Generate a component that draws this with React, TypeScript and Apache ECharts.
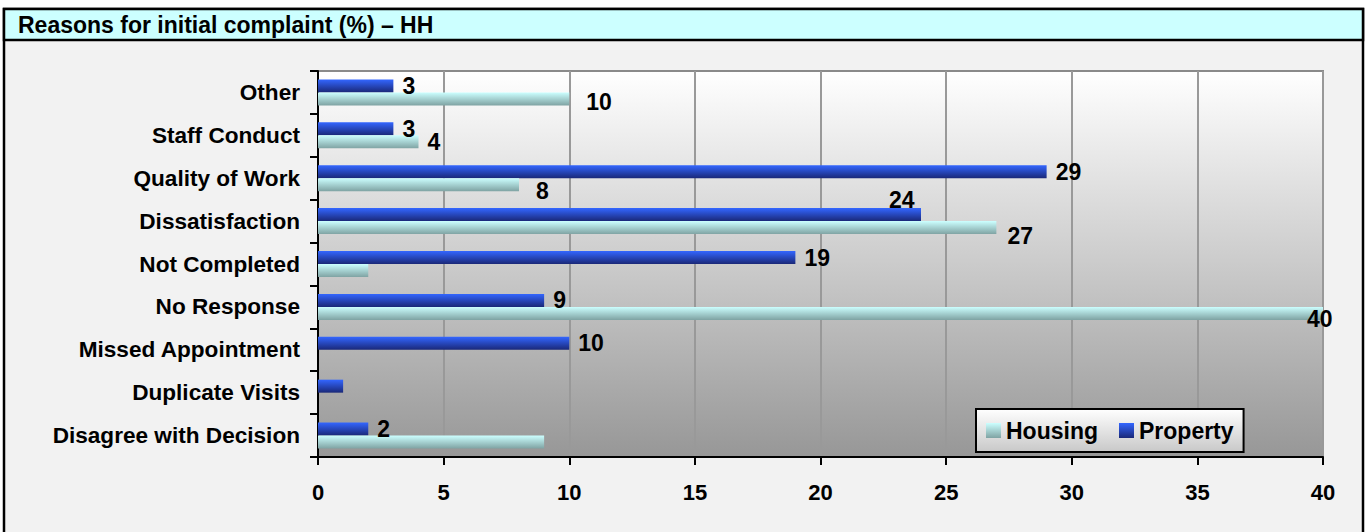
import React, { useEffect, useRef } from "react";
import * as echarts from "echarts";

const categories = [
  "Disagree with Decision",
  "Duplicate Visits",
  "Missed Appointment",
  "No Response",
  "Not Completed",
  "Dissatisfaction",
  "Quality of Work",
  "Staff Conduct",
  "Other",
];
const housing = [9, 0, 0, 40, 2, 27, 8, 4, 10];
const property = [2, 1, 10, 9, 19, 24, 29, 3, 3];
const xTicks = [0, 5, 10, 15, 20, 25, 30, 35, 40];

const FONT = "'Liberation Sans', Arial, sans-serif";

// label visibility / placement tweaks (by category index)
const housingLabelHidden = [true, true, true, false, true, false, false, false, false];
const propertyLabelHidden = [false, true, false, false, false, false, false, false, false];
const housingLabelOffset: Record<number, number[]> = {
  3: [-25, 6],
  5: [2, 8],
  6: [8, 6],
  8: [8, 3],
};
const propertyLabelOffset: Record<number, number[]> = {
  5: [-41, -15],
};

export default function App() {
  const ref = useRef<HTMLDivElement>(null);
  useEffect(() => {
    if (!ref.current) return;
    const chart = echarts.init(ref.current, null, { renderer: "svg" });
    const lg = (a: string, b: string) =>
      new echarts.graphic.LinearGradient(0, 0, 0, 1, [
        { offset: 0, color: a },
        { offset: 1, color: b },
      ]);
    const mk = (vals: number[], hidden: boolean[], offs: Record<number, number[]>) =>
      vals.map((v, i) => ({
        value: v,
        label: hidden[i]
          ? { show: false }
          : offs[i]
          ? { show: true, offset: offs[i] }
          : { show: true },
      }));
    const labelStyle = {
      show: true,
      position: "right",
      distance: 9,
      color: "#000",
      fontFamily: FONT,
      fontWeight: "bold",
      fontSize: 23,
    };
    chart.setOption({
      animation: false,
      backgroundColor: "#ffffff",
      graphic: [
        {
          type: "rect",
          shape: { x: 4, y: 9, width: 1359, height: 530 },
          style: { fill: "#f2f2f2", stroke: "#000", lineWidth: 2.5 },
          z: -10,
        },
        {
          type: "rect",
          shape: { x: 4, y: 9, width: 1359, height: 31 },
          style: { fill: "#ccffff", stroke: "#000", lineWidth: 2.5 },
          z: -9,
        },
        {
          type: "text",
          x: 18,
          y: 25,
          style: {
            text: "Reasons for initial complaint (%) \u2013 HH",
            fill: "#000",
            font: `bold 23px ${FONT}`,
            verticalAlign: "middle",
          },
        },
      ],
      legend: {
        data: ["Housing", "Property"],
        left: 976,
        top: 409,
        orient: "horizontal",
        icon: "rect",
        itemWidth: 15,
        itemHeight: 15,
        itemGap: 21,
        padding: [10, 10, 10, 10],
        backgroundColor: lg("#ffffff", "#c8c8c8"),
        borderColor: "#000",
        borderWidth: 2,
        textStyle: { color: "#000", fontFamily: FONT, fontWeight: "bold", fontSize: 23 },
      },
      grid: {
        left: 318,
        right: 44,
        top: 71,
        bottom: 75,
        show: true,
        backgroundColor: lg("#ffffff", "#979797"),
        borderColor: "#8a8a8a",
        borderWidth: 2,
        containLabel: false,
      },
      xAxis: {
        type: "value",
        min: xTicks[0],
        max: xTicks[xTicks.length - 1],
        interval: xTicks[1] - xTicks[0],
        axisLine: { show: true, lineStyle: { color: "#000", width: 2 } },
        axisTick: { show: true, length: 8, lineStyle: { color: "#000", width: 2 } },
        axisLabel: {
          color: "#000",
          fontFamily: FONT,
          fontWeight: "bold",
          fontSize: 22,
          margin: 24,
        },
        splitLine: { show: true, lineStyle: { color: "#999999", width: 2 } },
      },
      yAxis: {
        type: "category",
        data: categories,
        axisLine: { show: true, lineStyle: { color: "#000", width: 2 } },
        axisTick: { show: true, length: 8, lineStyle: { color: "#000", width: 2 } },
        axisLabel: {
          color: "#000",
          fontFamily: FONT,
          fontWeight: "bold",
          fontSize: 22.6,
          margin: 18,
        },
        splitLine: { show: false },
      },
      series: [
        {
          name: "Property",
          type: "bar",
          barWidth: 13,
          barGap: "0%",
          itemStyle: { color: lg("#3366ff", "#1a2878") },
          label: labelStyle,
          data: mk(property, propertyLabelHidden, propertyLabelOffset),
        },
        {
          name: "Housing",
          type: "bar",
          barWidth: 13,
          barGap: "0%",
          itemStyle: { color: lg("#ccffff", "#7fa3a3") },
          label: labelStyle,
          data: mk(housing, housingLabelHidden, housingLabelOffset),
        },
      ],
    });
    return () => chart.dispose();
  }, []);
  return (
    <div
      ref={ref}
      style={{ position: "fixed", left: 0, top: 0, width: 1367, height: 532 }}
    />
  );
}
